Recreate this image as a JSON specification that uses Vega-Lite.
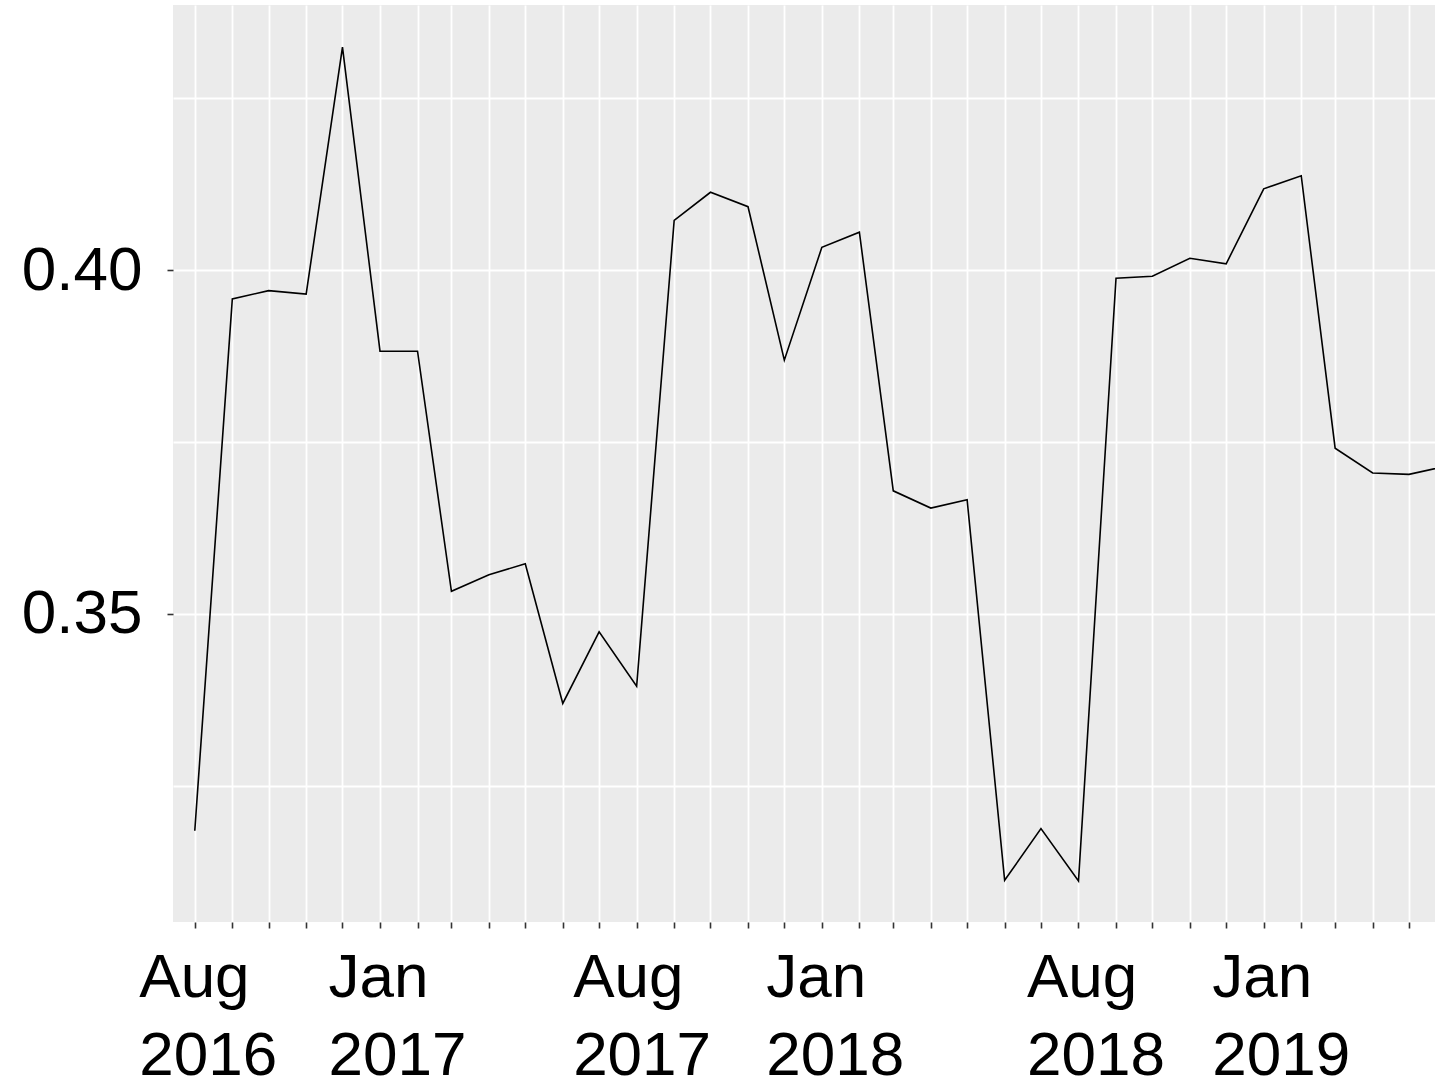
{
  "$schema": "https://vega.github.io/schema/vega-lite/v6.json",
  "autosize": {"type": "none"},
  "padding": {"left": 173, "top": 5, "right": 0, "bottom": 164},
  "width": 1262,
  "height": 917,
  "background": "white",
  "config": {
    "view": {"fill": "#EBEBEB", "stroke": null},
    "font": "Liberation Sans"
  },
  "data": {
    "values": [
      {"date": "2016-08-01", "value": 0.3185},
      {"date": "2016-09-01", "value": 0.3958},
      {"date": "2016-10-01", "value": 0.3970},
      {"date": "2016-11-01", "value": 0.3965},
      {"date": "2016-12-01", "value": 0.4324},
      {"date": "2017-01-01", "value": 0.3882},
      {"date": "2017-02-01", "value": 0.3882},
      {"date": "2017-03-01", "value": 0.3533},
      {"date": "2017-04-01", "value": 0.3557},
      {"date": "2017-05-01", "value": 0.3573},
      {"date": "2017-06-01", "value": 0.3370},
      {"date": "2017-07-01", "value": 0.3474},
      {"date": "2017-08-01", "value": 0.3395},
      {"date": "2017-09-01", "value": 0.4072},
      {"date": "2017-10-01", "value": 0.4113},
      {"date": "2017-11-01", "value": 0.4092},
      {"date": "2017-12-01", "value": 0.3869},
      {"date": "2018-01-01", "value": 0.4033},
      {"date": "2018-02-01", "value": 0.4055},
      {"date": "2018-03-01", "value": 0.3679},
      {"date": "2018-04-01", "value": 0.3654},
      {"date": "2018-05-01", "value": 0.3666},
      {"date": "2018-06-01", "value": 0.3113},
      {"date": "2018-07-01", "value": 0.3188},
      {"date": "2018-08-01", "value": 0.3112},
      {"date": "2018-09-01", "value": 0.3988},
      {"date": "2018-10-01", "value": 0.3991},
      {"date": "2018-11-01", "value": 0.4017},
      {"date": "2018-12-01", "value": 0.4009},
      {"date": "2019-01-01", "value": 0.4118},
      {"date": "2019-02-01", "value": 0.4137},
      {"date": "2019-03-01", "value": 0.3741},
      {"date": "2019-04-01", "value": 0.3705},
      {"date": "2019-05-01", "value": 0.3703},
      {"date": "2019-06-01", "value": 0.3715}
    ]
  },
  "mark": {"type": "line", "color": "black", "strokeWidth": 1.6, "clip": true},
  "encoding": {
    "x": {
      "field": "date",
      "type": "temporal",
      "scale": {
        "type": "utc",
        "domain": [
          {"year": 2016, "month": 7, "date": 14, "utc": true},
          {"year": 2019, "month": 5, "date": 22, "hours": 12, "utc": true}
        ]
      },
      "axis": {
        "title": null,
        "domain": false,
        "tickCount": {"interval": "month", "step": 1},
        "grid": true,
        "gridColor": "white",
        "gridWidth": 1.8,
        "tickColor": "#333333",
        "tickSize": 6,
        "tickWidth": 1.6,
        "labelExpr": "(utcmonth(datum.value) == 7 || utcmonth(datum.value) == 0) ? [utcFormat(datum.value, '%b'), utcFormat(datum.value, '%Y')] : ''",
        "labelAlign": "left",
        "labelBaseline": "top",
        "labelFontSize": 62,
        "labelColor": "black",
        "labelLineHeight": 78,
        "labelPadding": 19,
        "labelOverlap": false,
        "labelFlush": false,
        "labelBound": false,
        "labelOffset": {
          "condition": [
            {"test": "utcyear(datum.value) == 2017 && utcmonth(datum.value) == 7", "value": -64},
            {"test": "(utcyear(datum.value) == 2017 && utcmonth(datum.value) == 0) || (utcyear(datum.value) == 2018 && utcmonth(datum.value) == 7) || (utcyear(datum.value) == 2019 && utcmonth(datum.value) == 0)", "value": -52}
          ],
          "value": -56
        }
      }
    },
    "y": {
      "field": "value",
      "type": "quantitative",
      "scale": {"domain": [0.30523, 0.43852], "nice": false, "zero": false},
      "axis": {
        "title": null,
        "domain": false,
        "values": [0.325, 0.35, 0.375, 0.4, 0.425],
        "grid": true,
        "gridColor": "white",
        "gridWidth": 1.8,
        "tickColor": "#333333",
        "tickSize": 6,
        "tickWidth": 1.6,
        "tickOpacity": {"condition": {"test": "datum.value == 0.35 || datum.value == 0.4", "value": 1}, "value": 0},
        "labelExpr": "(datum.value == 0.35 || datum.value == 0.4) ? format(datum.value, '.2f') : ''",
        "labelFontSize": 62,
        "labelColor": "black",
        "labelPadding": 25,
        "labelOverlap": false,
        "labelFlush": false,
        "labelBound": false
      }
    }
  }
}
